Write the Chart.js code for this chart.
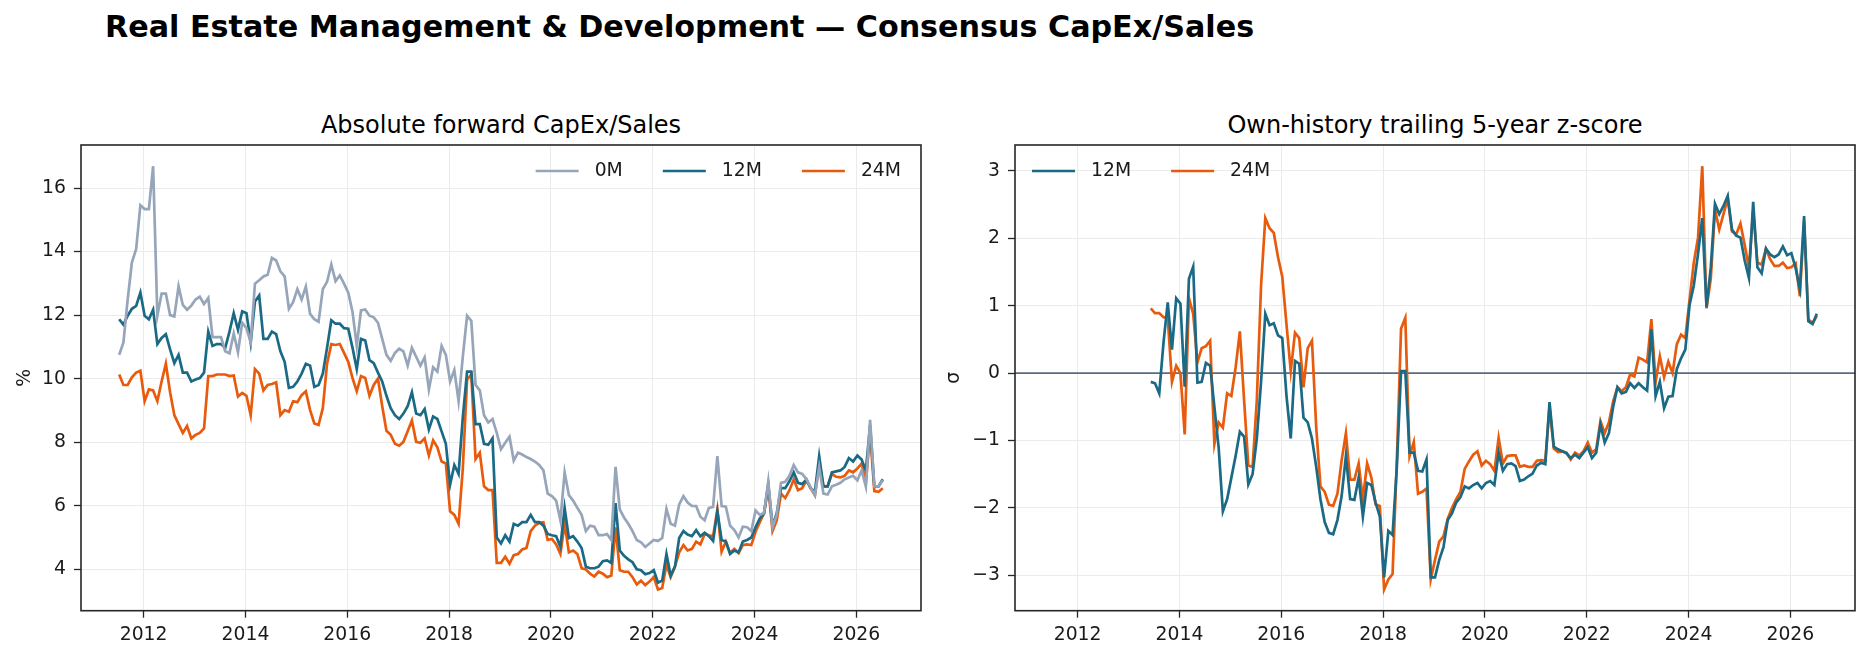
<!DOCTYPE html>
<html>
<head>
<meta charset="utf-8">
<script src="https://cdn.jsdelivr.net/npm/chart.js@4.4.1/dist/chart.umd.min.js"></script>
<style>
  body { margin: 0; width: 1869px; height: 659px; background: #fff; position: relative; overflow: hidden; font-family: 'DejaVu Sans', sans-serif; }
  .t { position: absolute; white-space: nowrap; color: #000; line-height: 1; }
  #sup { left: 105px; top: 12px; font-size: 30.2px; font-weight: bold; }
  .sub { top: 113px; font-size: 24px; transform: translateX(-50%); }
  .box { position: absolute; top: 100px; height: 559px; }
</style>
</head>
<body>
<div id="sup" class="t">Real Estate Management &amp; Development — Consensus CapEx/Sales</div>
<div class="t sub" style="left:501px">Absolute forward CapEx/Sales</div>
<div class="t sub" style="left:1435px">Own-history trailing 5-year z-score</div>
<div class="box" style="left:0;width:935px"><canvas id="c1" width="935" height="559"></canvas></div>
<div class="box" style="left:935px;width:934px"><canvas id="c2" width="934" height="559"></canvas></div>

<script>
// monthly, Jul 2011 .. Jul 2026
const START_MONTH = '2011-07';
const N_MONTHS = 181;
const Z_START = '2013-06';   // z-score needs history, starts later

const X_TICKS   = [2012, 2014, 2016, 2018, 2020, 2022, 2024, 2026];
const PCT_TICKS = [4, 6, 8, 10, 12, 14, 16];
const Z_TICKS   = [-3, -2, -1, 0, 1, 2, 3];

const CAPEX_0M = [
  10.75, 11.14, 12.49, 13.66, 14.08, 15.46, 15.34, 15.34, 16.69, 11.98, 12.68, 12.68,
  12.0, 11.96, 12.91, 12.32, 12.17, 12.3, 12.49, 12.58, 12.35, 12.54, 11.31, 11.31,
  11.31, 10.86, 10.8, 11.42, 10.83, 11.76, 11.59, 11.14, 12.99, 13.1, 13.22, 13.27,
  13.8, 13.72, 13.38, 13.22, 12.2, 12.41, 12.82, 12.49, 12.9, 12.04, 11.87, 11.79,
  12.82, 13.05, 13.59, 13.07, 13.25, 12.99, 12.71, 12.1, 11.03, 12.15, 12.18, 11.98,
  11.93, 11.76, 11.25, 10.75, 10.56, 10.81, 10.94, 10.86, 10.41, 10.97, 10.69, 10.41,
  10.67, 9.66, 10.36, 10.22, 11.03, 10.75, 9.91, 10.27, 9.29, 10.69, 11.98, 11.82,
  9.8, 9.63, 8.85, 8.62, 8.73, 8.29, 7.78, 7.98, 8.17, 7.42, 7.67, 7.61,
  7.53, 7.47, 7.39, 7.28, 7.11, 6.38, 6.3, 6.16, 5.54, 7.05, 6.33, 6.16,
  5.93, 5.71, 5.2, 5.37, 5.34, 5.07, 5.07, 5.11, 4.92, 7.22, 5.88, 5.63,
  5.43, 5.2, 4.92, 4.85, 4.7, 4.81, 4.92, 4.89, 4.98, 5.9, 5.43, 5.37,
  6.04, 6.3, 6.1, 5.99, 5.99, 5.65, 5.54, 5.93, 5.96, 7.56, 5.99, 5.97,
  5.37, 5.23, 5.0, 5.34, 5.32, 5.2, 5.85, 5.71, 5.77, 6.77, 5.32, 5.71,
  6.72, 6.75, 6.94, 7.28, 7.05, 7.0, 6.83, 6.57, 6.33, 7.22, 6.38, 6.35,
  6.61, 6.66, 6.72, 6.83, 6.89, 6.94, 6.8, 7.11, 6.6, 8.7, 6.61, 6.61,
  6.8
];

const CAPEX_12M = [
  11.87, 11.7, 11.98, 12.2, 12.29, 12.71, 11.98, 11.87, 12.17, 11.09, 11.28, 11.4,
  10.92, 10.49, 10.75, 10.19, 10.19, 9.91, 9.97, 10.02, 10.19, 11.48, 11.03, 11.09,
  11.09, 10.97, 11.48, 12.06, 11.54, 12.12, 12.06, 11.14, 12.43, 12.62, 11.25, 11.25,
  11.48, 11.4, 10.86, 10.53, 9.71, 9.74, 9.91, 10.16, 10.47, 10.41, 9.74, 9.8,
  10.16, 10.97, 11.84, 11.73, 11.73, 11.59, 11.57, 10.97, 10.3, 11.25, 11.2, 10.58,
  10.49, 10.19, 9.91, 9.46, 9.07, 8.85, 8.73, 8.9, 9.13, 9.57, 8.9, 8.85,
  9.04, 8.4, 8.81, 8.73, 8.34, 7.95, 6.66, 7.28, 7.0, 8.79, 10.22, 10.22,
  8.57, 8.57, 7.95, 7.92, 8.12, 5.0, 4.81, 5.07, 4.87, 5.43, 5.37, 5.48,
  5.48, 5.71, 5.48, 5.48, 5.37, 5.11, 5.07, 5.04, 4.7, 5.93, 4.98, 5.04,
  4.87, 4.67, 4.08, 4.03, 4.03, 4.08, 4.25, 4.28, 4.2, 6.08, 4.59, 4.42,
  4.31, 4.22, 4.0, 3.97, 3.84, 3.88, 3.97, 3.58, 3.64, 4.48, 3.8, 4.08,
  4.98, 5.2, 5.09, 5.04, 5.23, 5.04, 5.15, 5.04, 4.89, 5.82, 4.92, 4.87,
  4.48, 4.59, 4.53, 4.87, 4.92, 5.0, 5.32, 5.6, 5.76, 6.66, 5.37, 5.76,
  6.55, 6.55, 6.77, 7.05, 6.72, 6.68, 6.83, 6.55, 6.44, 7.56, 6.61, 6.61,
  7.05, 7.08, 7.11, 7.22, 7.5, 7.39, 7.58, 7.45, 7.1, 8.54, 6.61, 6.61,
  6.83
];

const CAPEX_24M = [
  10.13, 9.8, 9.8, 10.04, 10.19, 10.25, 9.29, 9.66, 9.63, 9.29, 9.91, 10.47,
  9.57, 8.85, 8.57, 8.29, 8.51, 8.12, 8.23, 8.29, 8.43, 10.08, 10.08, 10.13,
  10.13, 10.13, 10.08, 10.1, 9.44, 9.55, 9.46, 8.85, 10.3, 10.16, 9.63, 9.8,
  9.83, 9.88, 8.85, 9.01, 8.96, 9.29, 9.26, 9.48, 9.6, 9.01, 8.59, 8.54,
  9.07, 10.47, 11.09, 11.06, 11.09, 10.81, 10.53, 10.02, 9.6, 10.08, 10.02, 9.46,
  9.8, 10.0, 9.13, 8.36, 8.23, 7.95, 7.89, 8.01, 8.34, 8.68, 8.01, 7.98,
  8.12, 7.58, 8.06, 7.84, 7.39, 7.33, 5.82, 5.71, 5.43, 7.17, 9.97, 10.13,
  7.47, 7.67, 6.61, 6.49, 6.49, 4.2, 4.2, 4.39, 4.17, 4.44, 4.48, 4.62,
  4.67, 5.2, 5.37, 5.46, 5.48, 4.92, 4.95, 4.78, 4.48, 5.43, 4.53, 4.59,
  4.48, 4.03, 3.99, 3.86, 3.77, 3.92, 3.86, 3.75, 3.8, 5.32, 3.97, 3.92,
  3.92, 3.75, 3.52, 3.64, 3.5, 3.61, 3.75, 3.36, 3.41, 4.14, 3.75, 4.08,
  4.53, 4.76, 4.59, 4.64, 4.87, 4.78, 5.11, 5.07, 5.04, 5.88, 4.55, 4.87,
  4.51, 4.64, 4.51, 4.76, 4.78, 4.76, 5.18, 5.48, 5.76, 6.61, 5.2, 5.54,
  6.38, 6.24, 6.49, 6.83, 6.49, 6.55, 6.8, 6.55, 6.33, 7.33, 6.61, 6.61,
  7.0, 6.91, 6.89, 6.94, 7.11, 7.05, 7.17, 7.33, 6.72, 8.29, 6.46, 6.44,
  6.55
];

// z-scores from Jun 2013
const Z_12M = [
  -0.13, -0.15, -0.3, 0.45, 1.05, 0.35, 1.11,
  1.03, -0.2, 1.4, 1.58, -0.14, -0.13, 0.15, 0.11, -0.5, -1.1, -2.05, -1.87,
  -1.55, -1.23, -0.87, -0.94, -1.65, -1.5, -0.97, -0.13, 0.88, 0.71, 0.74, 0.56,
  0.52, -0.34, -0.97, 0.18, 0.14, -0.66, -0.73, -0.97, -1.39, -1.87, -2.21, -2.37,
  -2.39, -2.18, -1.82, -1.23, -1.87, -1.88, -1.55, -2.13, -1.63, -1.66, -1.92, -2.13,
  -3.03, -2.34, -2.4, -1.4, 0.03, 0.03, -1.18, -1.18, -1.45, -1.46, -1.28, -3.03,
  -3.03, -2.77, -2.58, -2.18, -2.08, -1.92, -1.84, -1.68, -1.71, -1.66, -1.63, -1.71,
  -1.63, -1.6, -1.66, -1.18, -1.45, -1.35, -1.34, -1.38, -1.6, -1.58, -1.53, -1.49,
  -1.37, -1.33, -1.35, -0.43, -1.09, -1.13, -1.16, -1.19, -1.26, -1.21, -1.26, -1.18,
  -1.1, -1.26, -1.18, -0.76, -1.03, -0.89, -0.5, -0.21, -0.3, -0.28, -0.15, -0.22,
  -0.15, -0.21, -0.26, 0.65, -0.34, -0.13, -0.52, -0.35, -0.34, 0.06, 0.22, 0.35,
  1.01, 1.3, 1.77, 2.3, 0.98, 1.56, 2.51, 2.36, 2.48, 2.63, 2.13, 2.04,
  2.01, 1.67, 1.41, 2.54, 1.57, 1.48, 1.85, 1.76, 1.72, 1.76, 1.88, 1.75,
  1.78, 1.56, 1.25, 2.33, 0.77, 0.73, 0.88
];

const Z_24M = [
  0.96, 0.89, 0.89, 0.83, 0.82, -0.13, 0.11,
  0.0, -0.91, 1.11, 0.88, 0.16, 0.37, 0.4, 0.48, -1.05, -0.73, -0.81, -0.3,
  -0.34, 0.08, 0.62, -0.4, -1.37, -1.39, -0.4, 1.3, 2.3, 2.15, 2.08, 1.72,
  1.43, 0.72, 0.03, 0.6, 0.52, -0.21, 0.37, 0.48, -0.8, -1.68, -1.76, -1.95,
  -1.97, -1.79, -1.29, -0.89, -1.58, -1.58, -1.34, -1.87, -1.34, -1.55, -1.95, -1.97,
  -3.21, -3.06, -2.98, -1.3, 0.66, 0.82, -1.23, -1.02, -1.79, -1.76, -1.71, -3.06,
  -2.77, -2.5, -2.42, -2.16, -2.0, -1.87, -1.76, -1.42, -1.31, -1.21, -1.16, -1.37,
  -1.3, -1.35, -1.45, -0.96, -1.34, -1.23, -1.22, -1.22, -1.39, -1.37, -1.39, -1.39,
  -1.3, -1.29, -1.3, -0.5, -1.12, -1.17, -1.16, -1.18, -1.28, -1.18, -1.22, -1.16,
  -1.03, -1.18, -1.13, -0.71, -0.89, -0.73, -0.42, -0.21, -0.27, -0.21, -0.02, -0.05,
  0.23, 0.2, 0.16, 0.8, -0.13, 0.25, -0.06, 0.17, 0.0, 0.43, 0.57, 0.52,
  1.09, 1.64, 2.01, 3.07, 0.96, 1.4, 2.43, 2.13, 2.36, 2.59, 2.1, 2.06,
  2.22, 1.9, 1.56, 2.41, 1.64, 1.61, 1.84, 1.69, 1.59, 1.59, 1.64, 1.56,
  1.57, 1.63, 1.14, 2.25, 0.8, 0.74, 0.85
];

const GRAY = '#96a5b9', TEAL = '#1a6a86', ORANGE = '#e95b0c';

// ───────────────────────────────────────────────────────────────────────────

const MONTHS = [];
{
  let [y, m] = START_MONTH.split('-').map(Number);
  for (let i = 0; i < N_MONTHS; i++) {
    MONTHS.push(y + '-' + String(m).padStart(2, '0'));
    if (++m > 12) { m = 1; y++; }
  }
}
const Z_MONTHS = MONTHS.slice(MONTHS.indexOf(Z_START));

function toYear(s) {
  const [y, m] = s.split('-').map(Number);
  return y + (m - 1) / 12 + 0.02;
}

function pts(months, vals) {
  return vals.map((v, i) => ({ x: toYear(months[i]), y: v }));
}

// matplotlib-style 5% margins
function padRange(lo, hi) {
  const d = (hi - lo) * 0.05;
  return [lo - d, hi + d];
}

const xRange = padRange(toYear(MONTHS[0]), toYear(MONTHS[MONTHS.length - 1]));
const pctAll = CAPEX_0M.concat(CAPEX_12M, CAPEX_24M);
const pctRange = padRange(Math.min(...pctAll), Math.max(...pctAll));
const zAll = Z_12M.concat(Z_24M);
const zRange = padRange(Math.min(...zAll), Math.max(...zAll));

const FONT = { family: 'DejaVu Sans', size: 18.8 };
Chart.defaults.font.family = 'DejaVu Sans';
Chart.defaults.color = '#1a1a1a';

const frame = {
  id: 'frame',
  afterDraw(chart) {
    const { ctx, chartArea: a } = chart;
    ctx.save();
    ctx.strokeStyle = '#262626';
    ctx.lineWidth = 1.6;
    ctx.strokeRect(a.left, a.top, a.right - a.left, a.bottom - a.top);
    ctx.restore();
  }
};

const zeroLine = {
  id: 'zeroLine',
  beforeDatasetsDraw(chart) {
    const { ctx, chartArea: a, scales } = chart;
    const py = scales.y.getPixelForValue(0);
    ctx.save();
    ctx.strokeStyle = '#5b6b7d';
    ctx.lineWidth = 1.6;
    ctx.beginPath();
    ctx.moveTo(a.left, py);
    ctx.lineTo(a.right, py);
    ctx.stroke();
    ctx.restore();
  }
};

// frameless legend inside the axes, one row
const inLegend = {
  id: 'inLegend',
  afterDraw(chart, args, opts) {
    const { ctx, chartArea: a } = chart;
    ctx.save();
    ctx.font = FONT.size + 'px "DejaVu Sans"';
    ctx.textBaseline = 'middle';
    const items = chart.data.datasets.map(d => ({ label: d.label, color: d.borderColor, w: ctx.measureText(d.label).width }));
    const HL = 43, GAP = 16, COL = 40;
    const total = items.reduce((s, it) => s + HL + GAP + it.w, 0) + COL * (items.length - 1);
    let x = opts.align === 'right' ? a.right - 20 - total : a.left + 17;
    const y = a.top + 26;
    items.forEach(it => {
      ctx.strokeStyle = it.color;
      ctx.lineWidth = 2.7;
      ctx.beginPath();
      ctx.moveTo(x, y);
      ctx.lineTo(x + HL, y);
      ctx.stroke();
      ctx.fillStyle = '#1a1a1a';
      ctx.fillText(it.label, x + HL + GAP, y);
      x += HL + GAP + it.w + COL;
    });
    ctx.restore();
  }
};

function line(label, months, vals, color) {
  return { label, data: pts(months, vals), borderColor: color, backgroundColor: color, borderWidth: 2.7, pointRadius: 0, tension: 0 };
}

function axisGrid() {
  return { color: '#ebebeb', lineWidth: 1, drawTicks: true, tickLength: 7, tickColor: '#262626', tickWidth: 1.3 };
}

function makeChart(id, datasets, yTicks, yRange, yTitle, yTitlePad, yAxisW, legendAlign, extra) {
  return new Chart(document.getElementById(id), {
    type: 'line',
    data: { datasets },
    plugins: [frame, inLegend].concat(extra),
    options: {
      responsive: false,
      animation: false,
      layout: { padding: { top: 45, right: 14, left: 0, bottom: 0 } },
      plugins: { legend: { display: false }, tooltip: { enabled: false }, inLegend: { align: legendAlign } },
      scales: {
        x: {
          type: 'linear',
          min: xRange[0],
          max: xRange[1],
          afterBuildTicks: s => { s.ticks = X_TICKS.map(v => ({ value: v })); },
          afterFit: s => { s.height = 48.3; },
          ticks: { font: FONT, padding: 6, maxRotation: 0, callback: v => String(v) },
          grid: axisGrid(),
          border: { display: false },
        },
        y: {
          min: yRange[0],
          max: yRange[1],
          afterBuildTicks: s => { s.ticks = yTicks.map(v => ({ value: v })); },
          afterFit: s => { s.width = yAxisW; },
          ticks: { font: FONT, padding: 8, callback: v => (v < 0 ? '\u2212' + Math.abs(v) : String(v)) },
          title: { display: true, text: yTitle, font: FONT, padding: { top: yTitlePad, bottom: 0 } },
          grid: axisGrid(),
          border: { display: false },
        }
      }
    }
  });
}

makeChart('c1', [
  line('0M', MONTHS, CAPEX_0M, GRAY),
  line('12M', MONTHS, CAPEX_12M, TEAL),
  line('24M', MONTHS, CAPEX_24M, ORANGE),
], PCT_TICKS, pctRange, '%', 14, 81, 'right', []);

makeChart('c2', [
  line('12M', Z_MONTHS, Z_12M, TEAL),
  line('24M', Z_MONTHS, Z_24M, ORANGE),
], Z_TICKS, zRange, 'σ', 8, 80, 'left', [zeroLine]);
</script>
</body>
</html>
